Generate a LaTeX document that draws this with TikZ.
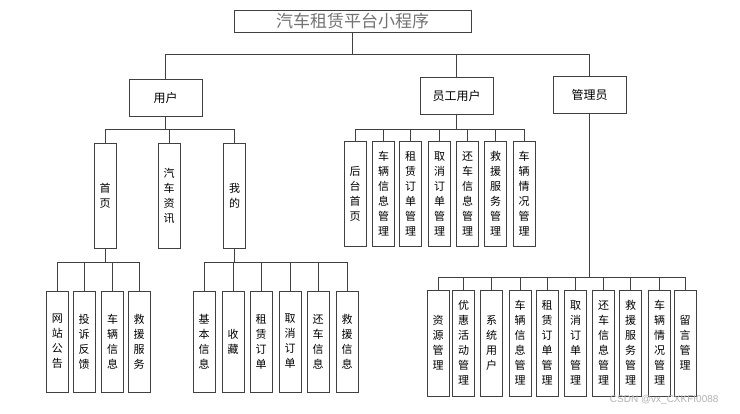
\documentclass[tikz,border=0pt]{standalone}
\usepackage{fontspec}
\newfontfamily\cjk{Noto Sans CJK SC}
\newfontfamily\wm{Liberation Sans}

\begin{document}
\begin{tikzpicture}[x=1pt,y=-1pt,
  box/.style={draw=black!75, line width=1pt, inner sep=0pt, align=center},
  head/.style={box, minimum width=73, minimum height=37, font=\cjk\fontsize{12}{14}\selectfont},
  col/.style={box, minimum width=22, font=\cjk\fontsize{11}{15}\selectfont},
  link/.style={draw=black!75, line width=1pt}]
\fill[white] (0,0) rectangle (740,413);

% top
\node[box, minimum width=237, minimum height=22, text=black!55,
  font=\cjk\fontsize{17}{19}\selectfont] (root) at (352.5,21) {汽车租赁平台小程序};

\node[head] (user) at (165.5,97.5) {用户};
\node[head] (staff) at (456.5,95.5) {员工用户};
\node[head] (admin) at (589.5,94.5) {管理员};
\foreach \n in {user,staff,admin}
  \draw[link] (root.south) -- ++(0,22) -| (\n.north);

% user
\node[col, minimum height=105] (home) at (105,195.5) {首\\页};
\node[col, minimum height=105] (news) at (169,195.5) {汽\\车\\资\\讯};
\node[col, minimum height=105] (mine) at (234.5,195.5) {我\\的};
\foreach \n in {home,news,mine}
  \draw[link] (user.south) -- ++(0,13) -| (\n.north);

\foreach \x/\t [count=\i] in {57.5/网\\站\\公\\告, 84/投\\诉\\反\\馈,
    112.5/车\\辆\\信\\息, 139/救\\援\\服\\务} {
  \node[col, minimum height=101] (h\i) at (\x,341.5) {\t};
  \draw[link] (home.south) -- ++(0,14) -| (h\i.north);
}

\foreach \x/\t [count=\i] in {204/基\\本\\信\\息, 233/收\\藏, 261/租\\赁\\订\\单,
    290/取\\消\\订\\单, 318/还\\车\\信\\息, 347/救\\援\\信\\息} {
  \node[col, minimum height=101] (m\i) at (\x,341.5) {\t};
  \draw[link] (mine.south) -- ++(0,14) -| (m\i.north);
}

% staff
\foreach \x/\t [count=\i] in {355/后\\台\\首\\页, 383.5/车\\辆\\信\\息\\管\\理,
    410.5/租\\赁\\订\\单\\管\\理, 439.5/取\\消\\订\\单\\管\\理,
    467.5/还\\车\\信\\息\\管\\理, 495.5/救\\援\\服\\务\\管\\理,
    524/车\\辆\\情\\况\\管\\理} {
  \node[col, minimum height=105] (s\i) at (\x,193.5) {\t};
  \draw[link] (staff.south) -- ++(0,15) -| (s\i.north);
}

% admin
\foreach \x/\t [count=\i] in {438/资\\源\\管\\理, 463.5/优\\惠\\活\\动\\管\\理,
    491.5/系\\统\\用\\户, 520/车\\辆\\信\\息\\管\\理, 547/租\\赁\\订\\单\\管\\理,
    575.5/取\\消\\订\\单\\管\\理, 603.5/还\\车\\信\\息\\管\\理,
    630.5/救\\援\\服\\务\\管\\理, 659.5/车\\辆\\情\\况\\管\\理, 685/留\\言\\管\\理} {
  \node[col, minimum height=106] (a\i) at (\x,343) {\t};
  \draw[link] (admin.south) -- ++(0,164) -| (a\i.north);
}

\node[text=black!30, font=\wm\fontsize{10}{12}\selectfont, anchor=east] (mark)
  at (722,400) {CSDN @vx\_CXKFI0088};
\end{tikzpicture}
\end{document}
